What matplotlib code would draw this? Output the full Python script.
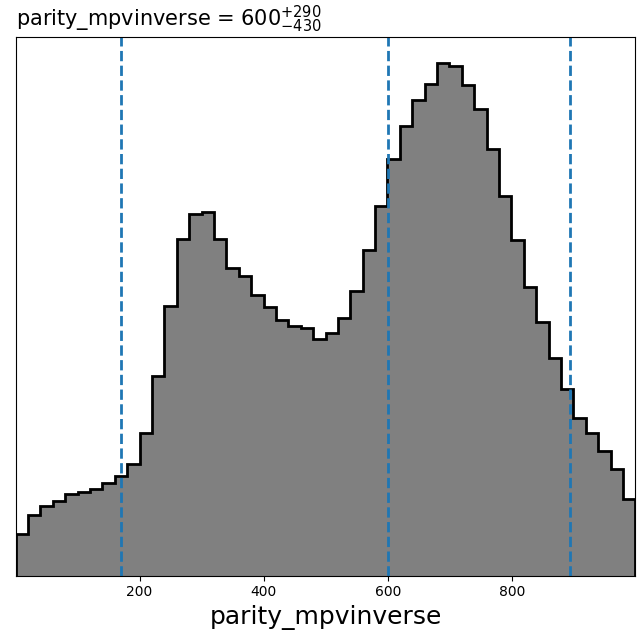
import numpy as np
import matplotlib.pyplot as plt

# histogram of parity_mpvinverse (50 bins)
x_min, x_max = 0.6, 998.0
counts = [42, 61, 70, 75, 82, 84, 87, 93, 100, 112,
          143, 200, 270, 338, 363, 365, 338, 308, 300, 281,
          269, 256, 250, 248, 237, 243, 258, 285, 326, 371,
          418, 451, 477, 493, 514, 511, 492, 468, 428, 381,
          337, 289, 254, 218, 187, 158, 143, 125, 107, 77]

# quantiles (16 / 50 / 84 %)
q_lo, q_mid, q_hi = 170, 600, 893

edges = np.linspace(x_min, x_max, len(counts) + 1)

fig = plt.figure(figsize=(6.44, 6.4), dpi=100)
ax = fig.add_axes([0.0244, 0.1005, 0.9621, 0.8412])

ax.stairs(counts, edges, fill=True, color='gray')
ax.stairs(counts, edges, color='black', lw=2)

for q in (q_lo, q_mid, q_hi):
    ax.axvline(q, color='#1f77b4', ls='--', lw=2)

ax.set_xlim(x_min, x_max)
ax.set_ylim(0, max(counts) * 1.05)
ax.set_yticks([])
ax.set_xticks([200, 400, 600, 800])

ax.set_title(r"parity_mpvinverse = $600^{+290}_{-430}$", loc='left', fontsize=15, pad=8)
ax.set_xlabel("parity_mpvinverse", fontsize=18)

fig.savefig("out.png", dpi=100)
